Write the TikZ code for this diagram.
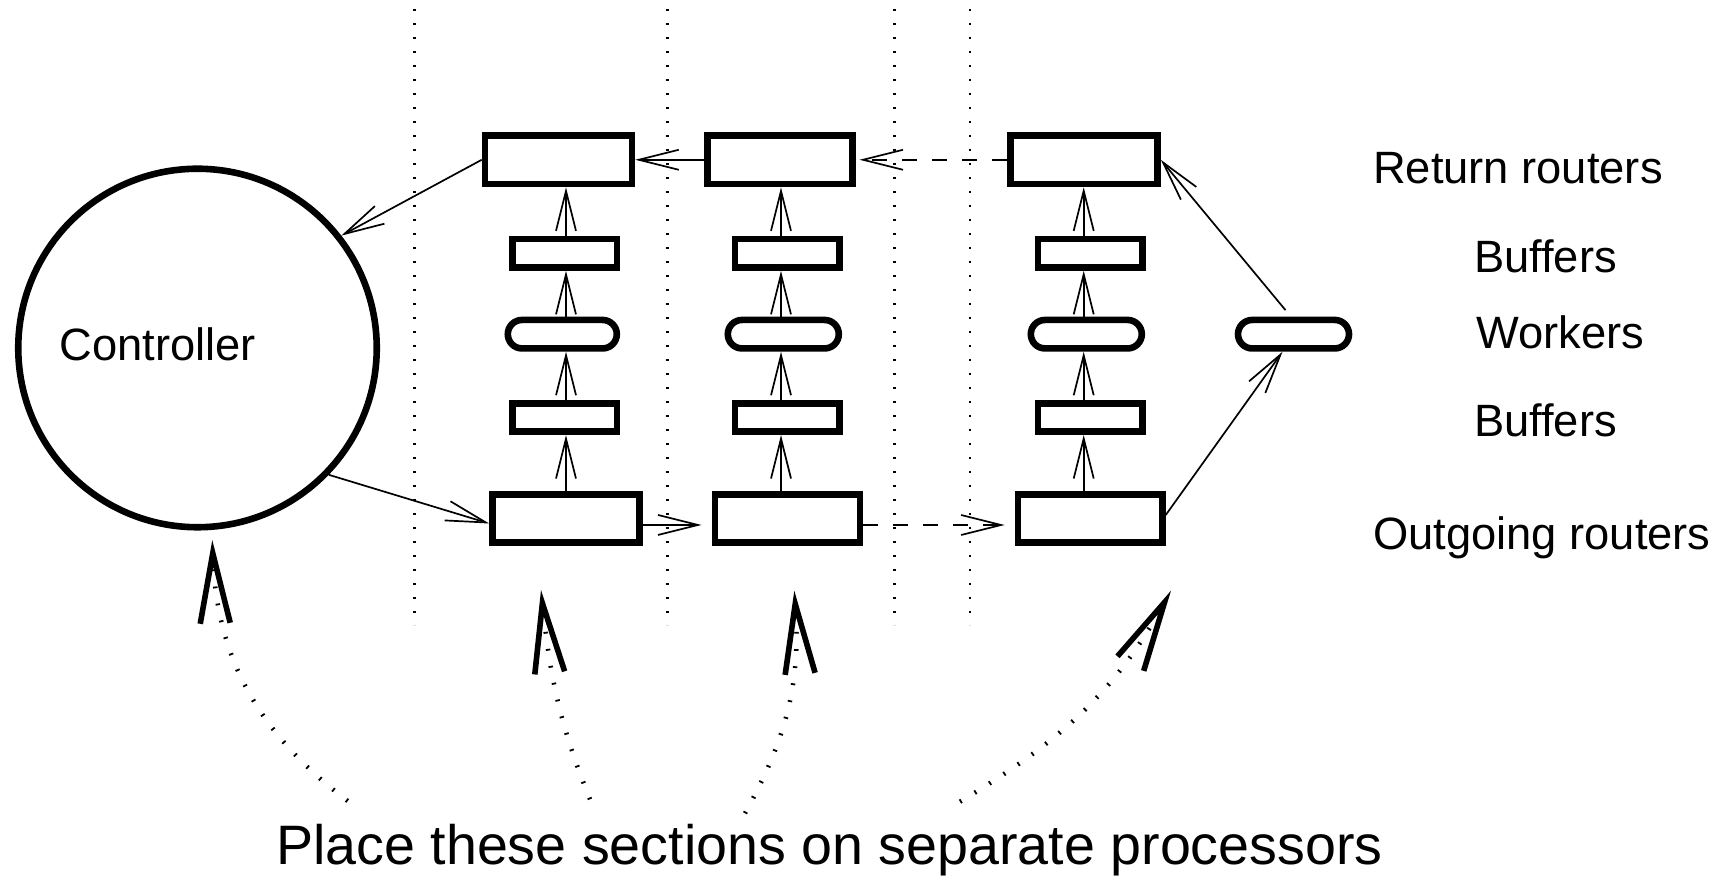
\documentclass[tikz,border=0pt]{standalone}
\usepackage{fontspec}
\setmainfont{Liberation Sans}
\usetikzlibrary{arrows.meta}

\begin{document}
\begin{tikzpicture}[x=1pt,y=1pt,
  box/.style={draw, line width=6.6pt, inner sep=0pt},
  router/.style={box, minimum width=147pt, minimum height=48.5pt},
  buffer/.style={box, minimum width=104.5pt, minimum height=28.5pt},
  worker/.style={box, minimum width=111pt, minimum height=28.5pt, rounded corners=14.25pt},
  arr/.style={line width=1.7pt, -{Straight Barb[length=40pt,width=20pt,line cap=butt,line join=miter]}},
  dasharr/.style={arr, dash pattern=on 15pt off 15pt},
  sep/.style={line width=2.6pt, dash pattern=on 2pt off 12pt},
  hint/.style={line width=4.5pt, dash pattern=on 1.8pt off 15.4pt,
    -{Straight Barb[length=70pt,width=30pt,line width'=5.6pt,line cap=butt,line join=miter]}},
  lbl/.style={anchor=base west, inner sep=0pt, font=\fontsize{45.3}{54}\selectfont},
]
\useasboundingbox (0,0) rectangle (1726,877);

% section separators
\foreach \x in {414.3,667.3,894.3,970}
  \draw[sep] (\x,868) -- (\x,252);

% controller
\node[draw, circle, line width=6.6pt, minimum size=358.5pt, inner sep=0pt] (ctrl) at (197.5,529) {};
\node[lbl] (ctrltext) at (59.5,516) {Controller};

% return routers
\node[router] (r1) at (558.5,717.2) {};
\node[router, minimum width=145pt] (r2) at (779.7,717.2) {};
\node[router] (r3) at (1084,717.2) {};

% upper buffers
\node[buffer] (bt1) at (564.8,623.7) {};
\node[buffer] (bt2) at (787.3,623.7) {};
\node[buffer] (bt3) at (1090.2,623.7) {};

% workers
\node[worker, minimum width=109pt] (w1) at (562.3,542.8) {};
\node[worker] (w2) at (783.3,542.8) {};
\node[worker] (w3) at (1086.3,542.8) {};
\node[worker] (w4) at (1293.5,542.8) {};

% lower buffers
\node[buffer] (bb1) at (564.8,459.5) {};
\node[buffer] (bb2) at (787.3,459.5) {};
\node[buffer] (bb3) at (1090.2,459.5) {};

% outgoing routers
\node[router] (o1) at (566,358.5) {};
\node[router, minimum width=145pt] (o2) at (787.3,358.5) {};
\node[router, minimum width=144.5pt] (o3) at (1090.2,358.5) {};

% column axes for the upward flow
\coordinate (c1) at (566,0);
\coordinate (c2) at (781,0);
\coordinate (c3) at (1083.7,0);

\foreach \i in {1,2,3} {
  \draw[arr] (o\i.north -| c\i) -- (bb\i.south -| c\i);
  \draw[arr] (bb\i.north -| c\i) -- (w\i.south -| c\i);
  \draw[arr] (w\i.north -| c\i) -- (bt\i.south -| c\i);
  \draw[arr] (bt\i.north -| c\i) -- (r\i.south -| c\i);
}

% return path
\draw[arr] (r2.west) -- (r1.east);
\draw[dasharr] (r3.west) -- ([xshift=4pt]r2.east);
\draw[arr] (r1.west) -- (ctrl.38.6);

% outgoing path
\draw[arr] (ctrl.-44) -- ([yshift=-5pt]o1.west);
\draw[arr] ([yshift=-6.5pt]o1.east) -- ([xshift=-10pt,yshift=-6.5pt]o2.west);
\draw[dasharr] ([yshift=-6.5pt]o2.east) -- ([xshift=-10pt,yshift=-6.5pt]o3.west);
\draw[arr] ([yshift=3.5pt]o3.east) -- ([xshift=-11pt]w4.south);
\draw[arr] ([xshift=-8pt,yshift=6.5pt]w4.north) -- (r3.east);

% row labels
\node[lbl] (lret) at (1373,693) {Return routers};
\node[lbl] (lbuf1) at (1474,604.3) {Buffers};
\node[lbl] (lwork) at (1476.5,528.7) {Workers};
\node[lbl] (lbuf2) at (1474,440.3) {Buffers};
\node[lbl] (lout) at (1373,327.7) {Outgoing routers};

% note and pointers to the sections
\node[anchor=base west, inner sep=0pt, font=\fontsize{55.6}{66}\selectfont] (note) at (276,12)
  {Place these sections on separate processors};

\coordinate (h1s) at (347.7,76);   \coordinate (h1t) at (212.3,337);
\coordinate (h2s) at (590,77.7);   \coordinate (h2t) at (541,287);
\coordinate (h3s) at (745,63.7);   \coordinate (h3t) at (794.3,286.3);
\coordinate (h4s) at (960,75.3);   \coordinate (h4t) at (1171,286.3);
\draw[hint] (h1s) to[out=143, in=-88] (h1t);
\draw[hint] (h2s) to[out=112, in=-84] (h2t);
\draw[hint] (h3s) to[out=61, in=-86] (h3t);
\draw[hint] (h4s) to[out=31, in=-119] (h4t);
\end{tikzpicture}
\end{document}
